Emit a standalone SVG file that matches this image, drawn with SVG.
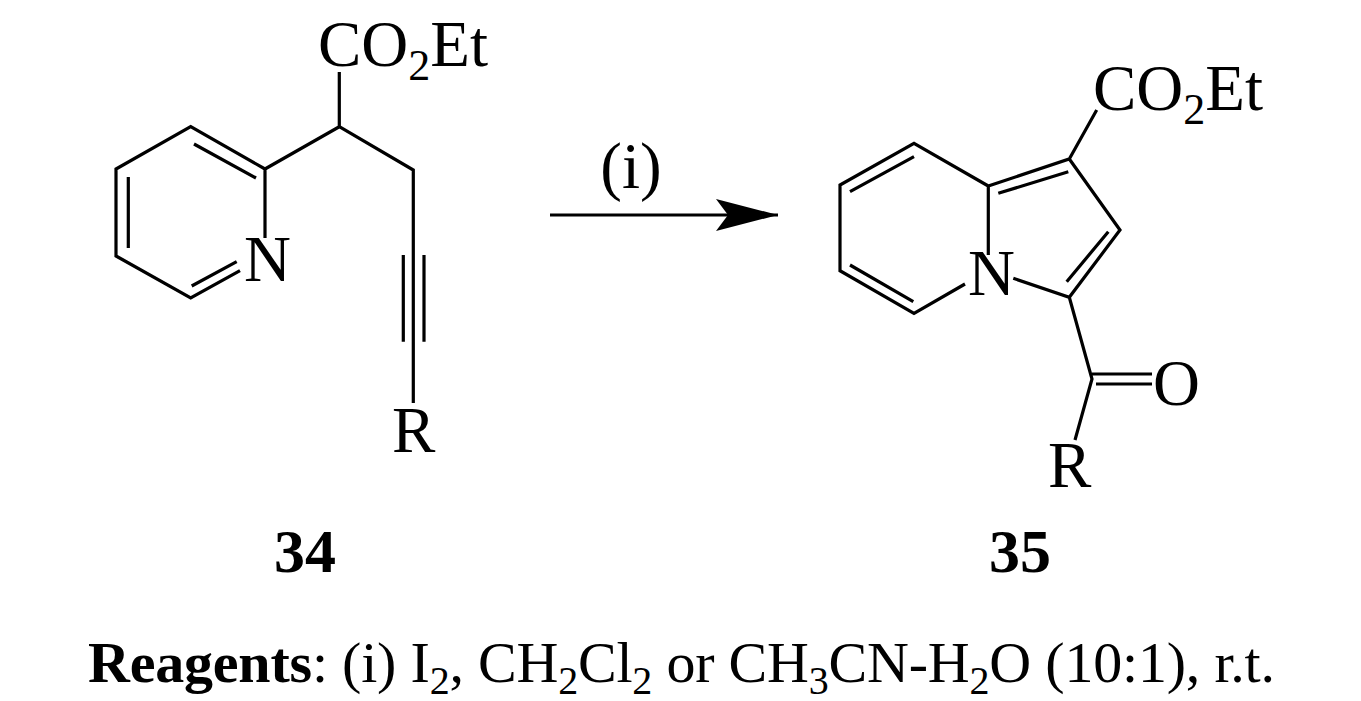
<svg xmlns="http://www.w3.org/2000/svg" width="1361" height="701" viewBox="0 0 1361 701">
<style>
.b{stroke:#000;stroke-width:3.2;fill:none;stroke-linecap:butt}
text{font-family:"Liberation Serif","Times New Roman",serif;fill:#000}
.l{font-size:65px}
.bold{font-size:62px;font-weight:bold}
</style>
<defs><marker id="ah" markerWidth="62" markerHeight="32" refX="62" refY="16" orient="auto" markerUnits="userSpaceOnUse"><path d="M0,0 L62,16 L0,32 L12,16 Z" fill="#000"/></marker></defs>
<rect width="1361" height="701" fill="#fff"/>
<g id="compound34">
<path class="b" d="M265,169 L190.7,126.7 L116,169 L116,256 L190.7,298 L240,270.7 M265,169 L265,238 M194,144 L256,178 M128.3,177 L128.3,248 M191.7,286 L236.7,261.7 M265,169 L339.3,126.7 L339.3,72 M339.3,126.7 L413.3,170 L413.3,255 M403.3,255 L403.3,341.7 M424,255 L424,341.7 M413.3,255 L413.3,403"/>
<text class="l" x="244" y="281">N</text>
<text class="l" x="318" y="66">CO<tspan font-size="44" dy="14">2</tspan><tspan dy="-14">Et</tspan></text>
<text class="l" x="392" y="452">R</text>
</g>
<g id="compound35">
<path class="b" d="M988.3,186 L914,143.3 L840,185 L840,270.7 L914,313.3 L965,284 M988.3,186 L988.3,255 M850,191.7 L914,156.7 M850,265 L913.3,301.7 M988.3,186 L1069.3,159 L1120,230 L1069.3,297.3 L1013.3,278.3 M998.3,193.3 L1068.3,171.7 M1108.3,231.7 L1066.7,281.7 M1069.3,159 L1096.7,110 M1069.3,297.3 L1092,379 L1075,440 M1092,374 L1152,374 M1096,384 L1152,384"/>
<text class="l" x="968" y="295">N</text>
<text class="l" x="1093" y="110">CO<tspan font-size="44" dy="14">2</tspan><tspan dy="-14">Et</tspan></text>
<text class="l" x="1153" y="405">O</text>
<text class="l" x="1048" y="487">R</text>
</g>
<g id="connectors">
<line class="b" x1="550" y1="215" x2="778" y2="215" marker-end="url(#ah)"/>
</g>
<text class="l" x="631" y="188" text-anchor="middle">(i)</text>
<text class="bold" x="305" y="572" text-anchor="middle">34</text>
<text class="bold" x="1020" y="572" text-anchor="middle">35</text>
<text x="88" y="682" font-size="58" textLength="1187"><tspan font-weight="bold">Reagents</tspan>: (i) I<tspan font-size="40" dy="12">2</tspan><tspan dy="-12">, CH</tspan><tspan font-size="40" dy="12">2</tspan><tspan dy="-12">Cl</tspan><tspan font-size="40" dy="12">2</tspan><tspan dy="-12"> or CH</tspan><tspan font-size="40" dy="12">3</tspan><tspan dy="-12">CN-H</tspan><tspan font-size="40" dy="12">2</tspan><tspan dy="-12">O (10:1), r.t.</tspan></text>
</svg>
